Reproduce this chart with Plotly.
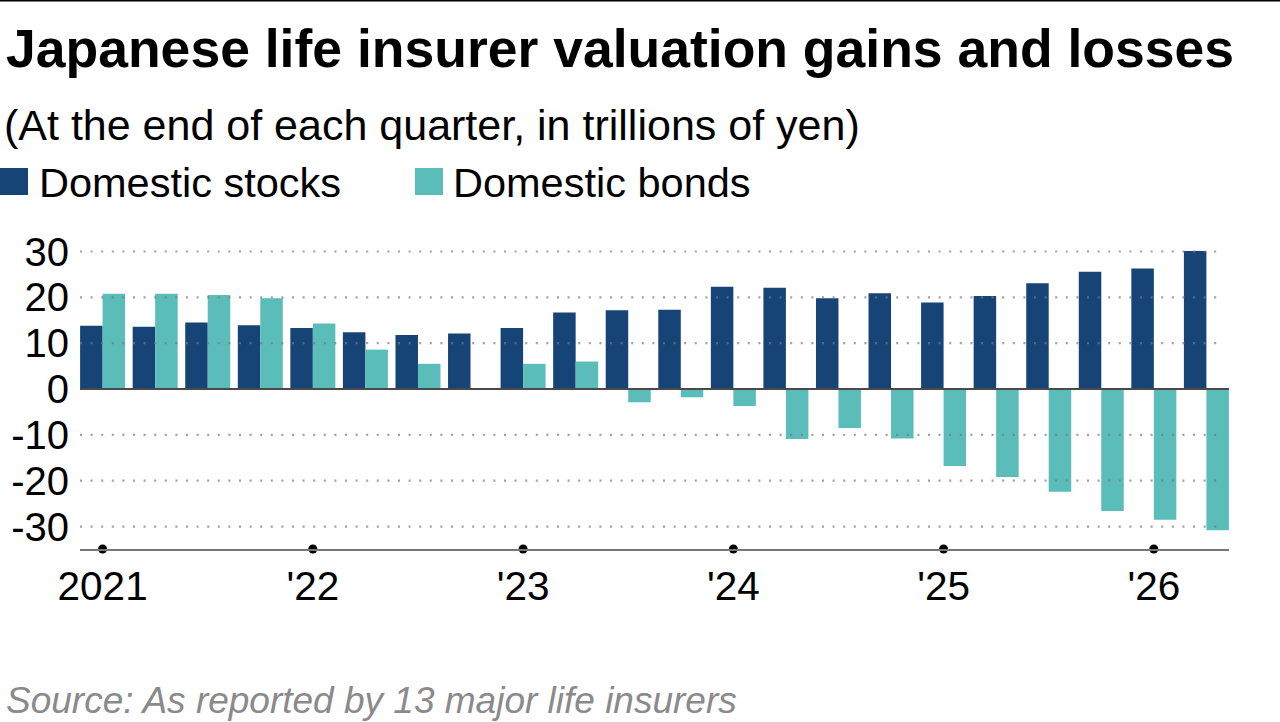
import plotly.graph_objects as go

quarters = list(range(22))
stocks = [13.8, 13.6, 14.5, 13.9, 13.3, 12.4, 11.8, 12.1, 13.3, 16.7, 17.2,
          17.3, 22.3, 22.1, 19.8, 20.9, 18.9, 20.3, 23.1, 25.6, 26.3, 30.1]
bonds = [20.8, 20.8, 20.5, 19.8, 14.3, 8.6, 5.5, -0.2, 5.5, 6.0, -2.9,
         -1.8, -3.7, -10.9, -8.5, -10.8, -16.8, -19.2, -22.4, -26.6, -28.5, -30.8]
year_ticks = [0, 4, 8, 12, 16, 20]
year_labels = ["2021", "'22", "'23", "'24", "'25", "'26"]
y_ticks = [-30, -20, -10, 0, 10, 20, 30]
y_labels = ["-30", "-20", "-10", "0", "10", "20", "30"]

C_STOCK = "#164477"
C_BOND = "#5bbdba"
FONT = "Liberation Sans, Arial, sans-serif"

W, H = 1280, 722
L, R, T, B = 80, 51, 246, 173
PW, PH = W - L - R, H - T - B
YMIN, YMAX = -34.9, 31.2


def px(x):
    return (x - L) / PW


def py(y):
    return (H - B - y) / PH


fig = go.Figure()
fig.add_trace(go.Bar(x=quarters, y=stocks, name="Domestic stocks",
                     marker=dict(color=C_STOCK, line=dict(width=0)),
                     showlegend=False))
fig.add_trace(go.Bar(x=quarters, y=bonds, name="Domestic bonds",
                     marker=dict(color=C_BOND, line=dict(width=0)),
                     showlegend=False))
# year tick dots on the axis line
fig.add_trace(go.Scatter(x=year_ticks, y=[YMIN] * len(year_ticks), mode="markers",
                         marker=dict(color="black", size=9), cliponaxis=False,
                         showlegend=False, hoverinfo="skip"))

shapes = []
for v in y_ticks:
    if v == 0:
        continue
    shapes.append(dict(type="line", xref="paper", yref="y", x0=0, x1=0.992,
                       y0=v, y1=v, layer="above",
                       line=dict(color="rgba(120,120,120,0.7)", width=2.2, dash="2px,8.6px")))
shapes.append(dict(type="line", xref="paper", yref="y", x0=0, x1=1, y0=0, y1=0,
                   layer="above", line=dict(color="#4a4a4a", width=2)))
# top border
shapes.append(dict(type="line", xref="paper", yref="paper", x0=px(0), x1=px(W),
                   y0=py(0.8), y1=py(0.8), line=dict(color="black", width=1.6)))
# legend squares
shapes.append(dict(type="rect", xref="paper", yref="paper", x0=px(0), x1=px(28),
                   y0=py(195), y1=py(168), fillcolor=C_STOCK, line=dict(width=0)))
shapes.append(dict(type="rect", xref="paper", yref="paper", x0=px(415), x1=px(443),
                   y0=py(195), y1=py(168), fillcolor=C_BOND, line=dict(width=0)))

annotations = [
    dict(text="<b>Japanese life insurer valuation gains and losses</b>",
         x=px(4), y=py(48), xanchor="left", yanchor="middle",
         font=dict(size=53.5, color="black", family=FONT)),
    dict(text="(At the end of each quarter, in trillions of yen)",
         x=px(2), y=py(125), xanchor="left", yanchor="middle",
         font=dict(size=43, color="black", family=FONT)),
    dict(text="Domestic stocks", x=px(37), y=py(182), xanchor="left", yanchor="middle",
         font=dict(size=41.5, color="black", family=FONT)),
    dict(text="Domestic bonds", x=px(451), y=py(182), xanchor="left", yanchor="middle",
         font=dict(size=41.5, color="black", family=FONT)),
    dict(text="<i>Source: As reported by 13 major life insurers</i>",
         x=px(4), y=py(700), xanchor="left", yanchor="middle",
         font=dict(size=37, color="#8a8a8a", family=FONT)),
]
for a in annotations:
    a.update(xref="paper", yref="paper", showarrow=False)

fig.update_layout(
    template="none",
    width=W, height=H,
    margin=dict(l=L, r=R, t=T, b=B, pad=0),
    paper_bgcolor="white", plot_bgcolor="white",
    barmode="group", bargap=0.144, bargroupgap=0,
    font=dict(family=FONT, color="black", size=40),
    shapes=shapes, annotations=annotations,
    xaxis=dict(range=[-0.43, 21.43], tickvals=year_ticks, ticktext=year_labels,
               showgrid=False, zeroline=False, showline=True, linecolor="#777777",
               linewidth=2, ticks="", ticklabelstandoff=0, automargin=False,
               tickfont=dict(size=40.5, color="black", family=FONT)),
    yaxis=dict(range=[YMIN, YMAX], tickvals=y_ticks, ticktext=y_labels,
               showgrid=False, zeroline=False,
               showline=False, ticks="", ticklabelstandoff=10, automargin=False,
               tickfont=dict(size=40, color="black", family=FONT)),
)

fig.write_html(
    "out.html",
    config={"displayModeBar": False},
    post_script="document.body.style.margin='0';document.body.style.padding='0';"
                "document.documentElement.style.overflow='hidden';",
)
